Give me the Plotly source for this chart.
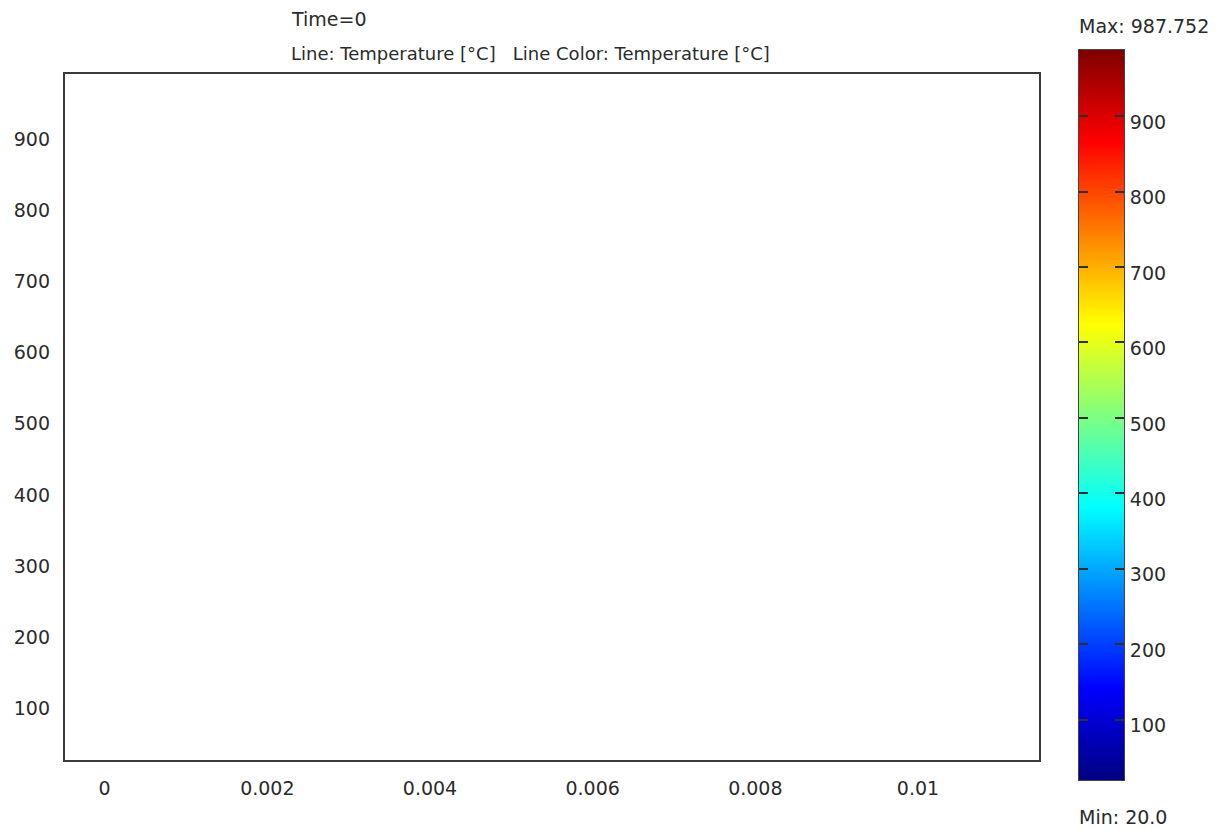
import plotly.graph_objects as go
from plotly.colors import sample_colorscale

# Line plot along the cross-section at the first time step
time_label = "Time=0"
position_m = [0.0, 0.002, 0.004, 0.006, 0.008, 0.010, 0.011]
temperature_c = [20.0, 20.0, 20.0, 20.0, 20.0, 20.0, 20.0]

# Colour range of the temperature legend
temp_min = 20.0
temp_max = 987.752
y_ticks = [100, 200, 300, 400, 500, 600, 700, 800, 900]
x_ticks = [0, 0.002, 0.004, 0.006, 0.008, 0.01]
x_tick_text = ["0", "0.002", "0.004", "0.006", "0.008", "0.01"]

jet = [
    [0.0, "#000080"],
    [0.125, "#0000ff"],
    [0.375, "#00ffff"],
    [0.625, "#ffff00"],
    [0.875, "#ff0000"],
    [1.0, "#800000"],
]

W, H = 1218, 829
FONT = "DejaVu Sans"
TXT = "#2b2b2b"
AX = "#3a3a3a"

# pixel layout of the two panels
plot_l, plot_r, plot_t, plot_b = 64, 1040, 73, 761
bar_l, bar_r, bar_t, bar_b = 1079, 1124, 50, 780


def xd(a, b):
    return [a / W, b / W]


def yd(top, bottom):
    return [1 - bottom / H, 1 - top / H]


line_col = sample_colorscale(
    jet, [(temperature_c[0] - temp_min) / (temp_max - temp_min)]
)[0]

fig = go.Figure()

fig.add_trace(
    go.Scatter(
        x=position_m,
        y=temperature_c,
        mode="lines",
        line=dict(color=line_col, width=1),
        hoverinfo="x+y",
        showlegend=False,
        xaxis="x",
        yaxis="y",
    )
)

# colour legend strip, interpolated between the min and max temperature
fig.add_trace(
    go.Heatmap(
        x=[0, 1],
        y=[temp_min, temp_max],
        z=[[temp_min, temp_min], [temp_max, temp_max]],
        zmin=temp_min,
        zmax=temp_max,
        zsmooth="best",
        colorscale=jet,
        showscale=False,
        hoverinfo="skip",
        xaxis="x2",
        yaxis="y2",
    )
)

fig.update_layout(
    width=W,
    height=H,
    margin=dict(l=0, r=0, t=0, b=0),
    paper_bgcolor="white",
    plot_bgcolor="white",
    font=dict(family=FONT, size=19, color=TXT),
    showlegend=False,
    xaxis=dict(
        domain=xd(plot_l, plot_r),
        range=[-0.0005, 0.0115],
        tickvals=x_ticks,
        ticktext=x_tick_text,
        ticks="",
        showgrid=False,
        zeroline=False,
        showline=False,
        ticklabelstandoff=14,
        tickfont=dict(family=FONT, size=19, color=TXT),
        automargin=False,
        anchor="y",
    ),
    yaxis=dict(
        domain=yd(plot_t, plot_b),
        range=[temp_min, temp_max],
        tickvals=y_ticks,
        ticks="",
        showgrid=False,
        zeroline=False,
        showline=False,
        ticklabelstandoff=13,
        ticklabelshift=4,
        tickfont=dict(family=FONT, size=19, color=TXT),
        automargin=False,
        anchor="x",
    ),
    xaxis2=dict(
        domain=xd(bar_l, bar_r),
        range=[0, 1],
        showticklabels=False,
        ticks="",
        showgrid=False,
        zeroline=False,
        showline=True,
        linecolor="#444444",
        linewidth=1,
        mirror=True,
        anchor="y2",
        fixedrange=True,
    ),
    yaxis2=dict(
        domain=yd(bar_t, bar_b),
        range=[temp_min, temp_max],
        side="right",
        tickvals=y_ticks,
        ticks="inside",
        ticklen=9,
        tickwidth=2,
        tickcolor="#2f2f2f",
        showgrid=False,
        zeroline=False,
        showline=True,
        linecolor="#444444",
        linewidth=1,
        mirror="ticks",
        ticklabelstandoff=1,
        ticklabelshift=6,
        tickfont=dict(family=FONT, size=19, color=TXT),
        automargin=False,
        anchor="x2",
        fixedrange=True,
    ),
    # axes frame drawn on top of the plotted line
    shapes=[
        dict(
            type="rect",
            xref="x domain", yref="y domain",
            x0=0, x1=1, y0=0, y1=1,
            line=dict(color=AX, width=2),
            fillcolor="rgba(0,0,0,0)",
            layer="above",
        )
    ],
    annotations=[
        dict(
            text=time_label,
            x=289 / W, y=1 - 19 / H,
            xref="paper", yref="paper",
            xanchor="left", yanchor="middle",
            showarrow=False,
            font=dict(family=FONT, size=19, color=TXT),
        ),
        dict(
            text="Line: Temperature [°C]   Line Color: Temperature [°C]",
            x=289 / W, y=1 - 53 / H,
            xref="paper", yref="paper",
            xanchor="left", yanchor="middle",
            showarrow=False,
            font=dict(family=FONT, size=18, color=TXT),
        ),
        dict(
            text=f"Max: {temp_max:.3f}",
            x=1077 / W, y=1 - 26 / H,
            xref="paper", yref="paper",
            xanchor="left", yanchor="middle",
            showarrow=False,
            font=dict(family=FONT, size=19, color=TXT),
        ),
        dict(
            text=f"Min: {temp_min:.1f}",
            x=1077 / W, y=1 - 817 / H,
            xref="paper", yref="paper",
            xanchor="left", yanchor="middle",
            showarrow=False,
            font=dict(family=FONT, size=19, color=TXT),
        ),
    ],
)

fig.write_html("out.html")
